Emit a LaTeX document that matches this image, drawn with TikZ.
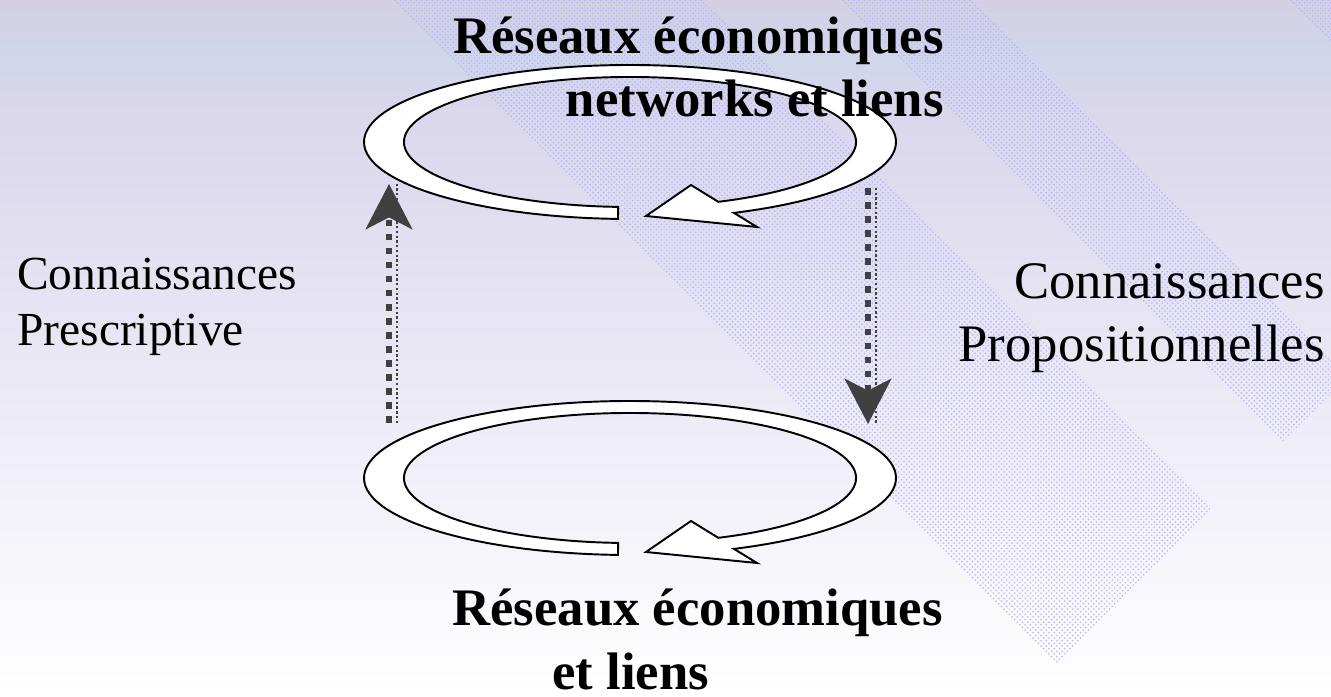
\documentclass[tikz,border=0pt]{standalone}
\usepackage{fontspec}
\setmainfont{Liberation Serif}
\usetikzlibrary{arrows.meta,patterns}
\definecolor{lavHaut}{HTML}{D4CFE5}
\definecolor{bleuBande}{HTML}{D0D6EA}
\definecolor{lavMilieu}{HTML}{DAD6EC}
\definecolor{gris}{HTML}{404040}
\tikzset{
  boucle/.style={draw=black, fill=white, line width=1.1pt},
  bande/.style={pattern=crosshatch dots, pattern color=blue!30},
  titre/.style={font=\bfseries\fontsize{30}{36}\selectfont, inner sep=0pt},
  pointille/.style={draw=gris, line width=3.8pt, dash pattern=on 3.8pt off 4.2pt,
    -{Stealth[length=26pt,width=27pt,inset=7pt,line width=0pt]},
    postaction={draw=gris, -, line width=1.1pt, dash pattern=on 1.3pt off 1.4pt,
      transform canvas={xshift=4.3pt}}}
}

\begin{document}
\begin{tikzpicture}[x=0.02cm, y=0.02cm]
  \useasboundingbox (0,0) rectangle (1331,696);
  % fond
  \shade[top color=lavHaut, bottom color=lavMilieu, middle color=bleuBande] (0,586) rectangle (1331,696);
  \shade[top color=lavMilieu, bottom color=white] (0,0) rectangle (1331,586);
  \fill[bande] (394,696) -- (705,696) -- (1212,189) -- (1057,33) -- cycle;
  \fill[bande] (840,696) -- (973,696) -- (1331,338) -- (1331,303) -- (1282,254) -- cycle;
  \fill[bande] (1287,696) -- (1331,696) -- (1331,652) -- cycle;

  % les deux boucles
  \foreach \yc in {554,218}
    \draw[boucle, shift={(630,\yc)}] (-92.6:266 and 77)
      arc[start angle=-92.6, end angle=-427, x radius=266, y radius=77]
      -- (127,-85) -- (16,-74) -- (61,-43) -- (-427:226 and 65)
      arc[start angle=-427, end angle=-93, x radius=226, y radius=65] -- cycle;

  % textes (ancre sur la derniere ligne)
  \node[titre, anchor=base east, align=right] (titreHaut) at (944,579) {Réseaux économiques\\networks et liens};
  \node[titre, anchor=base west, align=left] (titreBas) at (452,7) {Réseaux économiques\\\hspace*{1.9em}et liens};
  \node[inner sep=0pt, anchor=base west, align=left, font=\fontsize{27}{32}\selectfont] (prescriptive) at (17,350) {Connaissances\\Prescriptive};
  \node[inner sep=0pt, anchor=base east, align=right, font=\fontsize{30}{36.4}\selectfont] (propositionnelles) at (1325,334) {Connaissances\\Propositionnelles};

  % fleches pointillees
  \coordinate (gaucheBas) at (389,273);
  \coordinate (gaucheHaut) at (389,512);
  \coordinate (droiteHaut) at (868,508);
  \coordinate (droiteBas) at (868,272);
  \draw[pointille] (gaucheBas) -- (gaucheHaut);
  \draw[pointille] (droiteHaut) -- (droiteBas);
\end{tikzpicture}
\end{document}
